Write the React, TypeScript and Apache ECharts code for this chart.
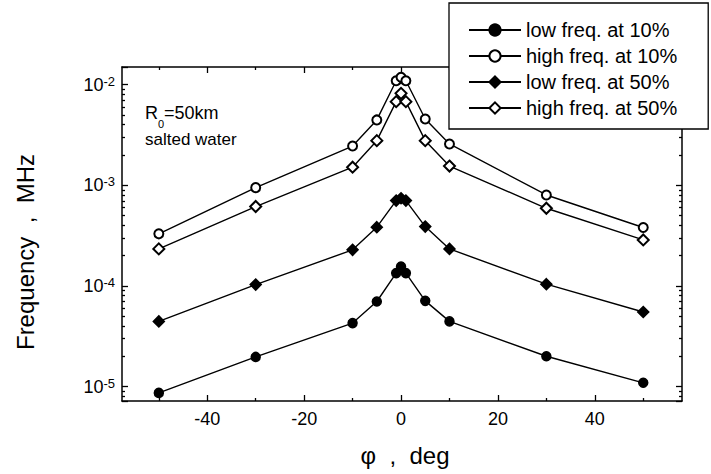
import React, { useEffect, useRef } from "react";
import * as echarts from "echarts";

// angle phi, deg
const phiDeg = [-50, -30, -10, -5, -1, 0, 1, 5, 10, 30, 50];

// Frequency, MHz
const lowFreq10 = [8.65e-6, 1.97e-5, 4.27e-5, 7.0e-5, 1.34e-4, 1.56e-4, 1.34e-4, 7.1e-5, 4.44e-5, 2.0e-5, 1.09e-5];
const highFreq10 = [3.29e-4, 9.46e-4, 2.45e-3, 4.45e-3, 1.09e-2, 1.18e-2, 1.09e-2, 4.55e-3, 2.57e-3, 8.0e-4, 3.8e-4];
const lowFreq50 = [4.44e-5, 1.03e-4, 2.28e-4, 3.83e-4, 7.03e-4, 7.43e-4, 7.03e-4, 3.88e-4, 2.33e-4, 1.04e-4, 5.5e-5];
const highFreq50 = [2.33e-4, 6.14e-4, 1.51e-3, 2.77e-3, 6.76e-3, 8.17e-3, 6.76e-3, 2.77e-3, 1.55e-3, 5.9e-4, 2.86e-4];

const seriesNames = ["low freq. at 10%", "high freq. at 10%", "low freq. at 50%", "high freq. at 50%"];

// axis ticks
const xMajorTicks = [-40, -20, 0, 20, 40];
const xMinorTicks = [-50, -30, -10, 10, 30, 50];
const yMinorTicks = [
  8e-6, 9e-6,
  2e-5, 3e-5, 4e-5, 5e-5, 6e-5, 7e-5, 8e-5, 9e-5,
  2e-4, 3e-4, 4e-4, 5e-4, 6e-4, 7e-4, 8e-4, 9e-4,
  2e-3, 3e-3, 4e-3, 5e-3, 6e-3, 7e-3, 8e-3, 9e-3,
];

const X_MIN = -57.6;
const X_MAX = 58;
const Y_MIN = 7.19e-6;
const Y_MAX = 0.01493;

const FONT = "'Liberation Sans', Arial, sans-serif";
const BLACK = "#000";

export default function App() {
  const ref = useRef<HTMLDivElement>(null);

  useEffect(() => {
    const chart = echarts.init(ref.current!, null, { renderer: "svg" });

    const axisLine = { show: true, onZero: false, lineStyle: { color: BLACK, width: 1.5 } };
    const noLine = { show: false, onZero: false };
    const tickLine = { color: BLACK, width: 1.3 };

    const xBase = {
      type: "value" as const,
      min: X_MIN,
      max: X_MAX,
      splitLine: { show: false },
    };
    const yLogMin = Math.log10(Y_MIN);
    const yLogMax = Math.log10(Y_MAX);

    const supLabel = (v: number) => {
      const e = Math.log10(v);
      if (Math.abs(e - Math.round(e)) > 1e-6) return "";
      return `{b|10}{sup|${Math.round(e)}}`;
    };

    const mk = (name: string, data: number[], symbol: string, size: number) => ({
      name,
      type: "line",
      xAxisIndex: 0,
      yAxisIndex: 0,
      data: phiDeg.map((x, i) => [x, data[i]]),
      symbol,
      symbolSize: size,
      showAllSymbol: true,
      itemStyle: { color: BLACK, borderColor: BLACK, borderWidth: 1.5 },
      lineStyle: { color: BLACK, width: 1.4 },
      emphasis: { disabled: true },
    });

    const option = {
      animation: false,
      backgroundColor: "#fff",
      grid: { left: 122, right: 29, top: 67, bottom: 73 },
      legend: {
        orient: "vertical",
        left: 449,
        top: 3,
        padding: [17, 31, 11, 19],
        itemGap: 6,
        itemWidth: 52,
        itemHeight: 14,
        selectedMode: false,
        borderColor: BLACK,
        borderWidth: 1.3,
        backgroundColor: "#fff",
        textStyle: { fontSize: 20, color: BLACK, fontFamily: FONT },
        data: seriesNames,
      },
      xAxis: [
        {
          ...xBase,
          position: "bottom",
          axisLine,
          axisTick: { show: true, inside: true, length: 6, customValues: xMajorTicks, lineStyle: tickLine },
          axisLabel: { show: true, customValues: xMajorTicks, fontSize: 18, color: BLACK, fontFamily: FONT, margin: 9 },
        },
        {
          ...xBase,
          position: "bottom",
          axisLine: noLine,
          axisTick: { show: true, inside: true, length: 3, customValues: xMinorTicks, lineStyle: tickLine },
          axisLabel: { show: false },
        },
        {
          ...xBase,
          position: "top",
          axisLine,
          axisTick: { show: true, inside: true, length: 6, customValues: xMajorTicks, lineStyle: tickLine },
          axisLabel: { show: false },
        },
        {
          ...xBase,
          position: "top",
          axisLine: noLine,
          axisTick: { show: true, inside: true, length: 3, customValues: xMinorTicks, lineStyle: tickLine },
          axisLabel: { show: false },
        },
      ],
      yAxis: [
        {
          type: "log",
          logBase: 10,
          min: Y_MIN,
          max: Y_MAX,
          position: "left",
          axisLine,
          splitLine: { show: false },
          axisTick: { show: true, inside: true, length: 6, lineStyle: tickLine },
          axisLabel: {
            show: true,
            margin: 7,
            formatter: supLabel,
            color: BLACK,
            fontFamily: FONT,
            rich: {
              b: { fontSize: 18, color: BLACK, fontFamily: FONT, lineHeight: 20 },
              sup: { fontSize: 13, color: BLACK, fontFamily: FONT, verticalAlign: "top", lineHeight: 13 },
            },
          },
        },
        {
          type: "value",
          min: yLogMin,
          max: yLogMax,
          position: "left",
          axisLine: noLine,
          splitLine: { show: false },
          axisTick: { show: true, inside: true, length: 3, customValues: yMinorTicks.map(Math.log10), lineStyle: tickLine },
          axisLabel: { show: false },
        },
        {
          type: "log",
          logBase: 10,
          min: Y_MIN,
          max: Y_MAX,
          position: "right",
          axisLine,
          splitLine: { show: false },
          axisTick: { show: true, inside: true, length: 6, lineStyle: tickLine },
          axisLabel: { show: false },
        },
        {
          type: "value",
          min: yLogMin,
          max: yLogMax,
          position: "right",
          axisLine: noLine,
          splitLine: { show: false },
          axisTick: { show: true, inside: true, length: 3, customValues: yMinorTicks.map(Math.log10), lineStyle: tickLine },
          axisLabel: { show: false },
        },
      ],
      series: [
        mk(seriesNames[0], lowFreq10, "circle", 9),
        mk(seriesNames[1], highFreq10, "emptyCircle", 9),
        mk(seriesNames[2], lowFreq50, "diamond", 11),
        mk(seriesNames[3], highFreq50, "emptyDiamond", 11),
      ],
      graphic: [
        {
          type: "text",
          x: 25,
          y: 252,
          rotation: Math.PI / 2,
          style: {
            text: "Frequency  ,  MHz",
            font: `24px ${FONT}`,
            fill: BLACK,
            align: "center",
            verticalAlign: "middle",
          },
        },
        {
          type: "text",
          x: 405,
          y: 455,
          style: {
            text: "φ  ,  deg",
            font: `24px ${FONT}`,
            fill: BLACK,
            align: "center",
            verticalAlign: "middle",
          },
        },
        {
          type: "text",
          x: 145,
          y: 104,
          style: { text: "R", font: `18px ${FONT}`, fill: BLACK, verticalAlign: "top" },
        },
        {
          type: "text",
          x: 158,
          y: 118,
          style: { text: "0", font: `11px ${FONT}`, fill: BLACK, verticalAlign: "top" },
        },
        {
          type: "text",
          x: 164,
          y: 104,
          style: { text: "=50km", font: `18px ${FONT}`, fill: BLACK, verticalAlign: "top" },
        },
        {
          type: "text",
          x: 145,
          y: 131,
          style: { text: "salted water", font: `17px ${FONT}`, fill: BLACK, verticalAlign: "top" },
        },
      ],
    };

    chart.setOption(option as any);
    return () => chart.dispose();
  }, []);

  return (
    <div
      ref={ref}
      style={{ position: "fixed", left: 0, top: 0, width: 711, height: 474, background: "#fff" }}
    />
  );
}
